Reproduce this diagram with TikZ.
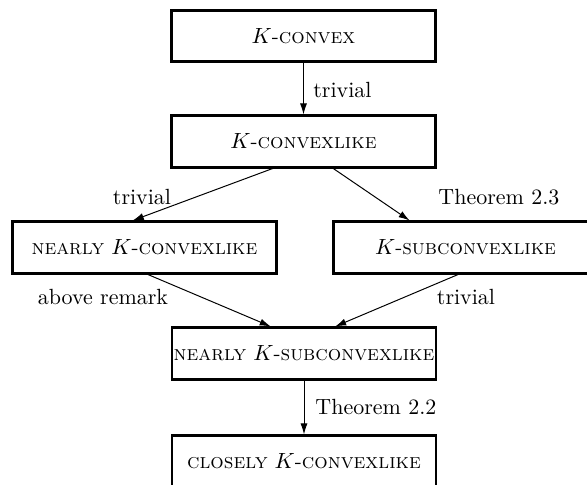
\documentclass[tikz,border=0pt]{standalone}
\usetikzlibrary{arrows.meta,calc}
\begin{document}
\begin{tikzpicture}[x=0.455pt,y=-0.455pt,
  box/.style={draw, line width=1.2pt, minimum width=120pt, minimum height=23.4pt, inner sep=0pt, font=\fontsize{9.6}{12}\selectfont},
  arr/.style={-{Latex[length=5pt,width=3.2pt]}, line width=0.45pt},
  lab/.style={inner sep=0pt, font=\fontsize{10}{12}\selectfont}]
\useasboundingbox (0,0) rectangle (587,485);
\clip (0,0) rectangle (587,485);
\node[box] (b1) at (303.5,36) {$K$-\textsc{convex}};
\node[box] (b2) at (303.5,141.5) {$K$-\textsc{convexlike}};
\node[box] (b3) at (144.5,247.5) {\textsc{nearly} $K$-\textsc{convexlike}};
\node[box] (b4) at (465.5,247.5) {$K$-\textsc{subconvexlike}};
\node[box] (b5) at (304,353.5) {\textsc{nearly} $K$-\textsc{subconvexlike}};
\node[box] (b6) at (304,461.5) {\textsc{closely} $K$-\textsc{convexlike}};
\draw[arr] (b1.south) -- (b2.north);
\draw[arr] ($(b2.south west)!0.384!(b2.south east)$) -- ($(b3.north west)!0.456!(b3.north east)$);
\draw[arr] ($(b2.south west)!0.612!(b2.south east)$) -- ($(b4.north west)!0.29!(b4.north east)$);
\draw[arr] ($(b3.south west)!0.513!(b3.south east)$) -- ($(b5.north west)!0.375!(b5.north east)$);
\draw[arr] ($(b4.south west)!0.472!(b4.south east)$) -- ($(b5.north west)!0.617!(b5.north east)$);
\draw[arr] (b5.south) -- (b6.north);
\node[lab, anchor=west] (l1) at (313,90) {trivial};
\node[lab] (l2) at (142,197) {trivial};
\node[lab, anchor=west] (l3) at (438,197) {Theorem 2.3};
\node[lab] (l4) at (103,297) {above remark};
\node[lab] (l5) at (466,297) {trivial};
\node[lab, anchor=west] (l6) at (315,407) {Theorem 2.2};
\end{tikzpicture}
\end{document}
